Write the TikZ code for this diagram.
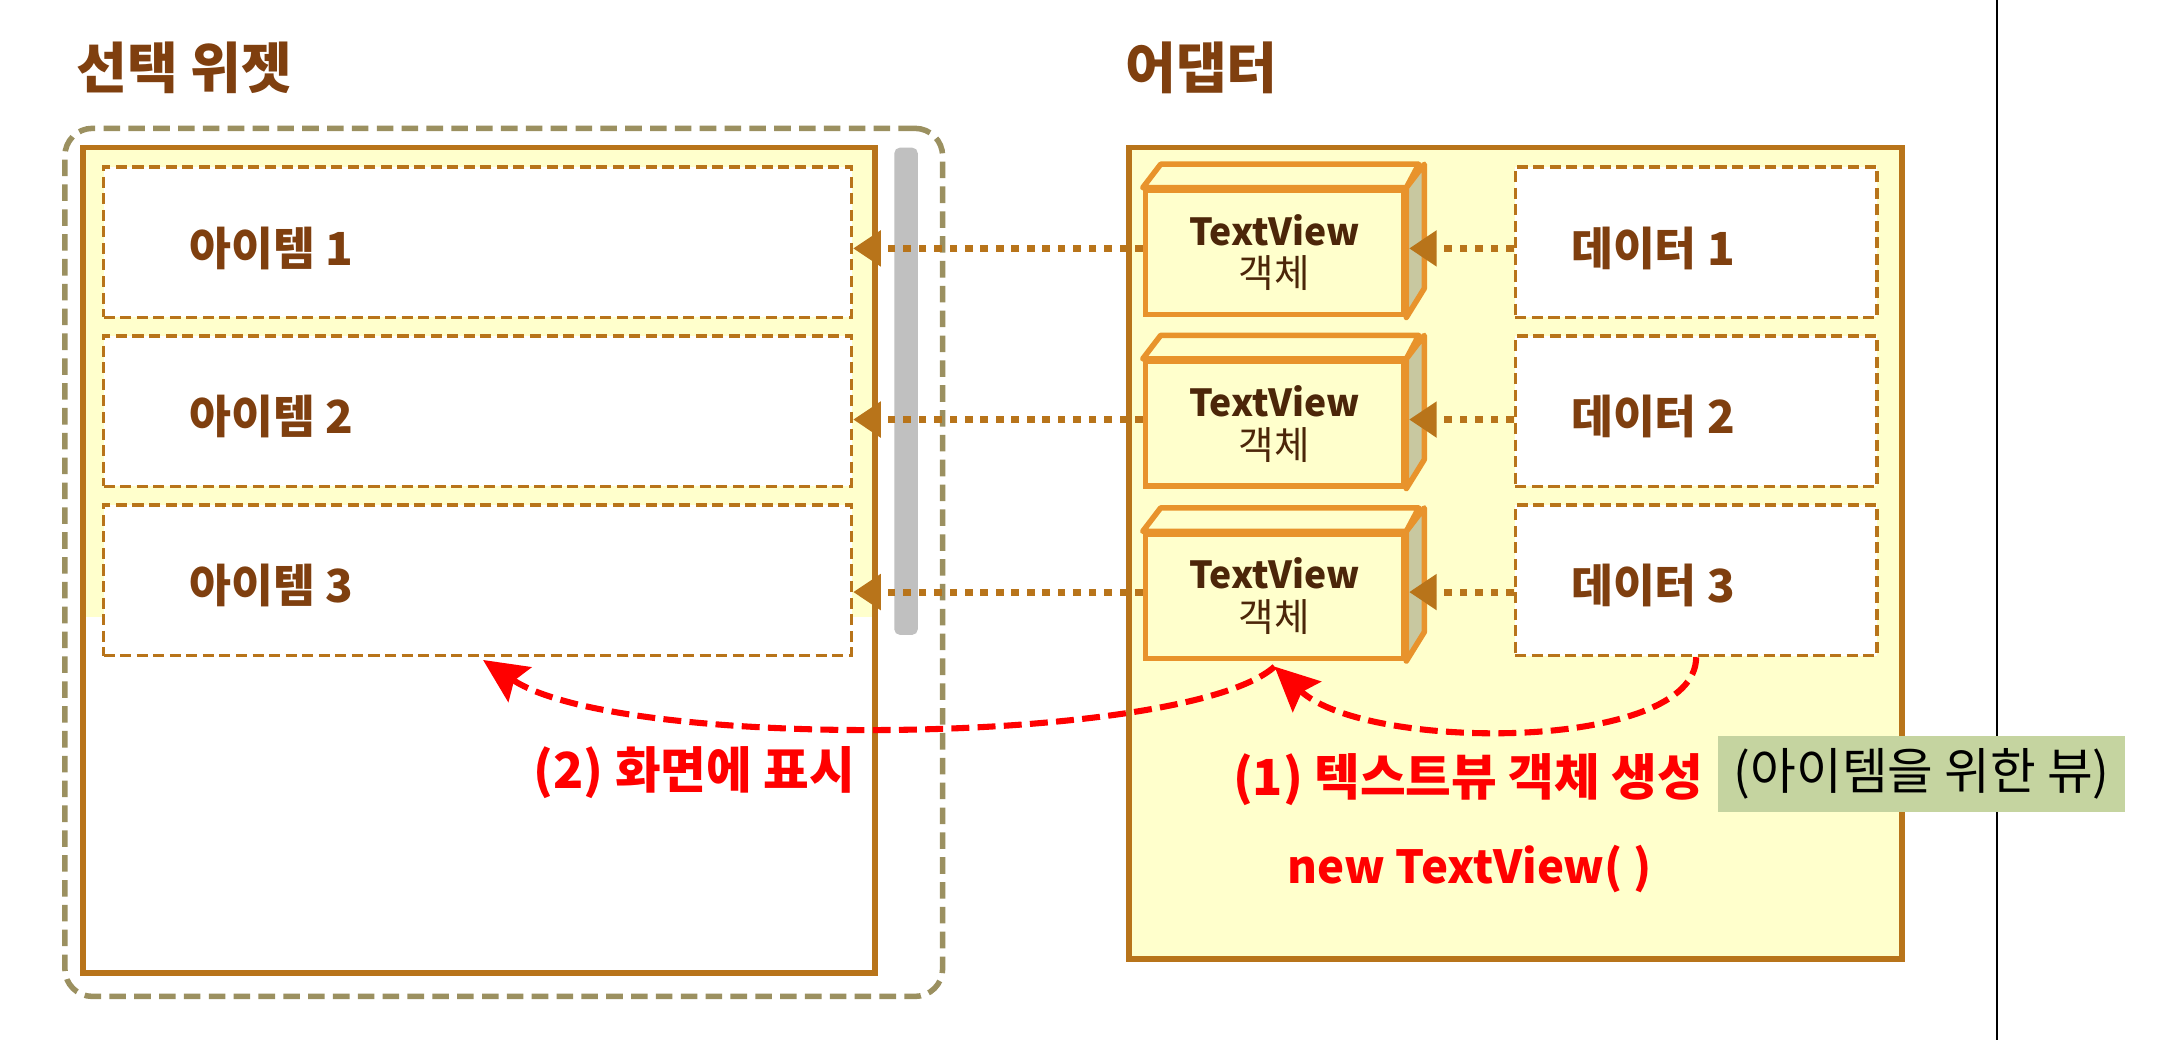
\documentclass[tikz,border=0pt]{standalone}
\usepackage{fontspec}
\setmainfont{Noto Sans CJK KR}
\usetikzlibrary{arrows.meta}
\definecolor{tbrown}{HTML}{7F3F0F}
\definecolor{bbrown}{HTML}{B8741A}
\definecolor{olivec}{HTML}{9B9060}
\definecolor{lyel}{HTML}{FFFFCC}
\definecolor{tvor}{HTML}{E8932C}
\definecolor{tvside}{HTML}{C8C8A0}
\definecolor{gbar}{HTML}{C0C0C0}
\definecolor{gnote}{HTML}{C5D4A0}
\definecolor{rred}{HTML}{FF0000}
\tikzset{
  titlelbl/.style={font=\fontsize{20pt}{23pt}\selectfont\bfseries, text=tbrown, inner sep=0pt},
  itemlbl/.style={font=\fontsize{16.5pt}{19pt}\selectfont\bfseries, text=tbrown, inner sep=0pt, anchor=west},
  itembox/.style={draw=bbrown, line width=1.2pt, dash pattern=on 4pt off 2pt, fill=white,
    minimum width=271pt, minimum height=54.5pt, inner sep=0pt},
  databox/.style={itembox, minimum width=131pt},
  tvbox/.style={draw=tvor, line width=2pt, fill=lyel, minimum width=93.5pt, minimum height=45pt,
    inner sep=0pt, align=center, text=tbrown!60!black, font=\fontsize{14pt}{15.5pt}\selectfont},
  tvface/.style={draw=tvor, line width=2pt, line join=round},
  dotarrow/.style={bbrown, line width=2.5pt, dash pattern=on 2.8pt off 2.8pt,
    -{Triangle[length=10pt,width=12.5pt]}},
  redarrow/.style={rred, line width=2.2pt, dash pattern=on 6.5pt off 3pt,
    -{Stealth[length=16pt,width=15pt,inset=2.5pt]}},
  redlbl/.style={font=\fontsize{18pt}{21pt}\selectfont\bfseries, text=rred, inner sep=0pt},
}
\begin{document}
\begin{tikzpicture}[x=0.5pt,y=-0.5pt]
\useasboundingbox (0,0) rectangle (1568,753.5);
\fill[white] (0,0) rectangle (1568,753.5);
% vertical line
\draw[black, line width=0.8pt] (1447,0) -- (1447,753.5);
% titles
\node[titlelbl, anchor=west] (t1) at (55,49) {선택 위젯};
\node[titlelbl, anchor=west] (t2) at (815,49) {어댑터};
% selection widget outer
\node[draw=olivec, line width=2pt, dash pattern=on 6pt off 3pt, rounded corners=10pt,
  minimum width=318pt, minimum height=314.5pt, inner sep=0pt] (sel) at (365,407.5) {};
% list view
\fill[white] (60,107) rectangle (634,705);
\fill[lyel] (60,107) rectangle (634,447);
\node[draw=bbrown, line width=2pt, minimum width=287pt, minimum height=299pt, inner sep=0pt] (lv) at (347,406) {};
% scrollbar
\fill[gbar, rounded corners=2pt] (648,107) rectangle (665,460);
% items
\node[itembox] (i1) at (346,175.5) {};
\node[itembox] (i2) at (346,298) {};
\node[itembox] (i3) at (346,420.5) {};
\node[itemlbl] (l1) at (137,180) {아이템 1};
\node[itemlbl] (l2) at (137,302) {아이템 2};
\node[itemlbl] (l3) at (137,424) {아이템 3};
% adapter
\node[draw=bbrown, line width=2pt, fill=lyel, minimum width=280pt, minimum height=294pt, inner sep=0pt] (ad) at (1098,401) {};
% data boxes
\node[databox] (d1) at (1229,175.5) {};
\node[databox] (d2) at (1229,298) {};
\node[databox] (d3) at (1229,420.5) {};
\node[itemlbl] (dl1) at (1138,180) {데이터 1};
\node[itemlbl] (dl2) at (1138,302) {데이터 2};
\node[itemlbl] (dl3) at (1138,424) {데이터 3};
% textview boxes
\foreach \n/\y in {1/183,2/307,3/432}{
  \node[tvbox] (tv\n) at (923.5,\y) {{\fontsize{13.5pt}{15pt}\selectfont\bfseries TextView}\\객체};
  \filldraw[tvface, fill=lyel] (tv\n.north west) -- ++(13,-17) -- ++(187,0) -- (tv\n.north east) -- cycle;
  \filldraw[tvface, fill=tvside] (tv\n.north east) -- ++(13,-17) -- ++(0,90) -- (tv\n.south east) -- cycle;
}
% dotted arrows (horizontal)
\foreach \n in {1,2,3}{
  \coordinate (tvl\n) at ([yshift=1.5pt]tv\n.west);
  \coordinate (tvr\n) at ([yshift=1.5pt,xshift=1pt]tv\n.east);
  \draw[dotarrow] (d\n.west |- tvr\n) -- (tvr\n);
  \draw[dotarrow] (tvl\n) -- (tvl\n -| i\n.east);
}
% red arrows
\draw[redarrow] (d3.south) .. controls (1229,545) and (990,545) .. ([yshift=-2pt]tv3.south);
\draw[redarrow] ([yshift=-2pt]tv3.south) .. controls (860,540) and (450,545) .. ([yshift=-1pt]i3.south -| 350,0);
% labels
\node[redlbl, anchor=east] (r2) at (620,560) {(2) 화면에 표시};
\node[redlbl, anchor=west] (r1) at (893,565) {(1) 텍스트뷰 객체 생성};
\node[fill=gnote, minimum width=147.5pt, minimum height=27.5pt, inner sep=0pt,
  font=\fontsize{18pt}{21pt}\selectfont, text=black] (note) at (1392.5,560.5) {(아이템을 위한 뷰)};
\node[redlbl, font=\fontsize{16.5pt}{20pt}\selectfont\bfseries] (nt) at (1065,630) {new TextView( )};
\end{tikzpicture}
\end{document}
